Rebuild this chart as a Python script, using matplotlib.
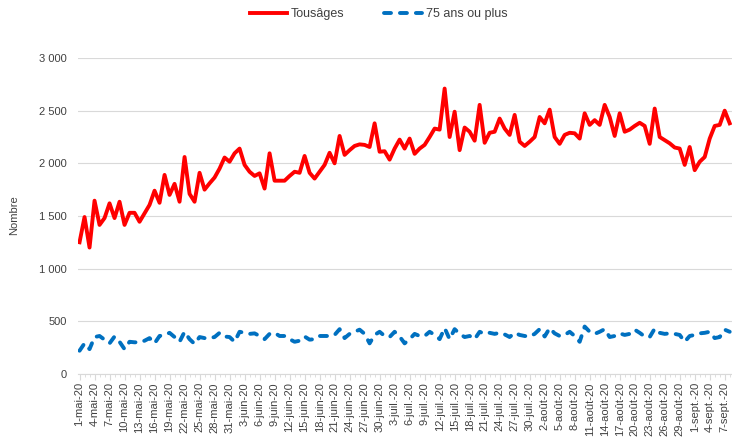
import numpy as np
import pandas as pd
import matplotlib
matplotlib.use("Agg")
import matplotlib.pyplot as plt

plt.rcParams['font.family'] = ['Liberation Sans', 'DejaVu Sans']

# daily values, 1 May 2020 -> 8 Sept 2020
dates = pd.date_range("2020-05-01", "2020-09-08", freq="D")

tous_ages = [
    1250, 1490, 1200, 1645, 1415, 1480, 1620, 1480, 1635, 1415,
    1530, 1530, 1445, 1525, 1605, 1740, 1625, 1890, 1700, 1805,
    1635, 2060, 1710, 1635, 1910, 1750, 1810, 1865, 1950, 2055,
    2015, 2095, 2140, 1985, 1920, 1880, 1905, 1760, 2095, 1835,
    1835, 1835, 1880, 1920, 1910, 2070, 1910, 1855, 1920, 1985,
    2100, 2000, 2260, 2080, 2125, 2165, 2180, 2175, 2155, 2380,
    2110, 2115, 2035, 2140, 2225, 2140, 2235, 2090, 2140, 2175,
    2250, 2330, 2320, 2710, 2250, 2490, 2125, 2340, 2300, 2215,
    2555, 2195, 2290, 2300, 2425, 2330, 2270, 2460, 2205, 2165,
    2205, 2250, 2440, 2380, 2510, 2250, 2185, 2270, 2290, 2285,
    2235, 2475, 2365, 2410, 2365, 2555, 2440, 2260, 2475, 2300,
    2320, 2355, 2385, 2355, 2185, 2520, 2250, 2220, 2190, 2150,
    2140, 1985, 2155, 1935, 2015, 2060, 2235, 2355, 2365, 2500,
    2380,
]

plus_75 = [
    220, 290, 235, 350, 360, 325, 290, 355, 305, 235,
    305, 300, 300, 315, 340, 290, 360, 370, 390, 350,
    305, 400, 330, 285, 350, 340, 340, 350, 390, 355,
    350, 305, 400, 390, 380, 385, 360, 330, 380, 390,
    360, 360, 330, 305, 315, 355, 325, 330, 360, 360,
    360, 370, 425, 340, 380, 400, 420, 380, 290, 370,
    400, 360, 350, 400, 355, 290, 330, 380, 360, 360,
    400, 370, 330, 435, 330, 425, 380, 350, 360, 330,
    400, 380, 390, 380, 390, 375, 350, 390, 370, 360,
    355, 380, 425, 355, 435, 385, 360, 370, 400, 360,
    305, 450, 400, 380, 400, 425, 350, 360, 385, 370,
    380, 420, 390, 355, 350, 430, 390, 380, 385, 380,
    370, 305, 360, 370, 385, 390, 400, 340, 350, 420,
    400,
]

mois = {5: "mai", 6: "juin", 7: "juil.", 8: "août", 9: "sept."}
x = np.arange(len(dates))
tick_pos = x[::3]
tick_labels = [f"{d.day}-{mois[d.month]}-20" for d in dates[::3]]

fig = plt.figure(figsize=(7.32, 4.43), dpi=100)
ax = fig.add_axes([0.1066, 0.156, 0.893, 0.713])

ax.plot(x, tous_ages, color="#FF0000", lw=2.8, solid_joinstyle="round",
        label="Tousâges")
ax.plot(x, plus_75, color="#0070C0", lw=2.8, dashes=(1.8, 2.3),
        dash_capstyle="round", label="75 ans ou plus")

ax.set_ylim(0, 3000)
ax.set_xlim(-0.3, 130.4)
ax.set_yticks(np.arange(0, 3001, 500))
ax.set_yticklabels([f"{int(v):,}".replace(",", " ") for v in np.arange(0, 3001, 500)])
ax.set_xticks(tick_pos)
ax.set_xticklabels(tick_labels, rotation=90)
ax.set_xticks(x, minor=True)

ax.grid(axis="y", color="#D9D9D9", lw=0.8)
ax.set_axisbelow(True)
for s in ["top", "right", "left"]:
    ax.spines[s].set_visible(False)
ax.spines["bottom"].set_color("#D9D9D9")
ax.tick_params(axis="y", length=0, labelsize=8, labelcolor="#404040", pad=8)
ax.tick_params(axis="x", which="major", length=4, color="#D9D9D9",
               labelsize=8, labelcolor="#404040", pad=2)
ax.tick_params(axis="x", which="minor", length=2, color="#D9D9D9")

fig.text(0.019, 0.515, "Nombre", rotation=90, ha="center", va="center",
         fontsize=8, color="#404040")

fig.legend(loc="upper center", bbox_to_anchor=(0.517, 1.007), ncol=2,
           frameon=False, fontsize=9, handlelength=3.0, handletextpad=0.3,
           columnspacing=3.2, labelcolor="#404040")

fig.savefig("out.png", dpi=100)
